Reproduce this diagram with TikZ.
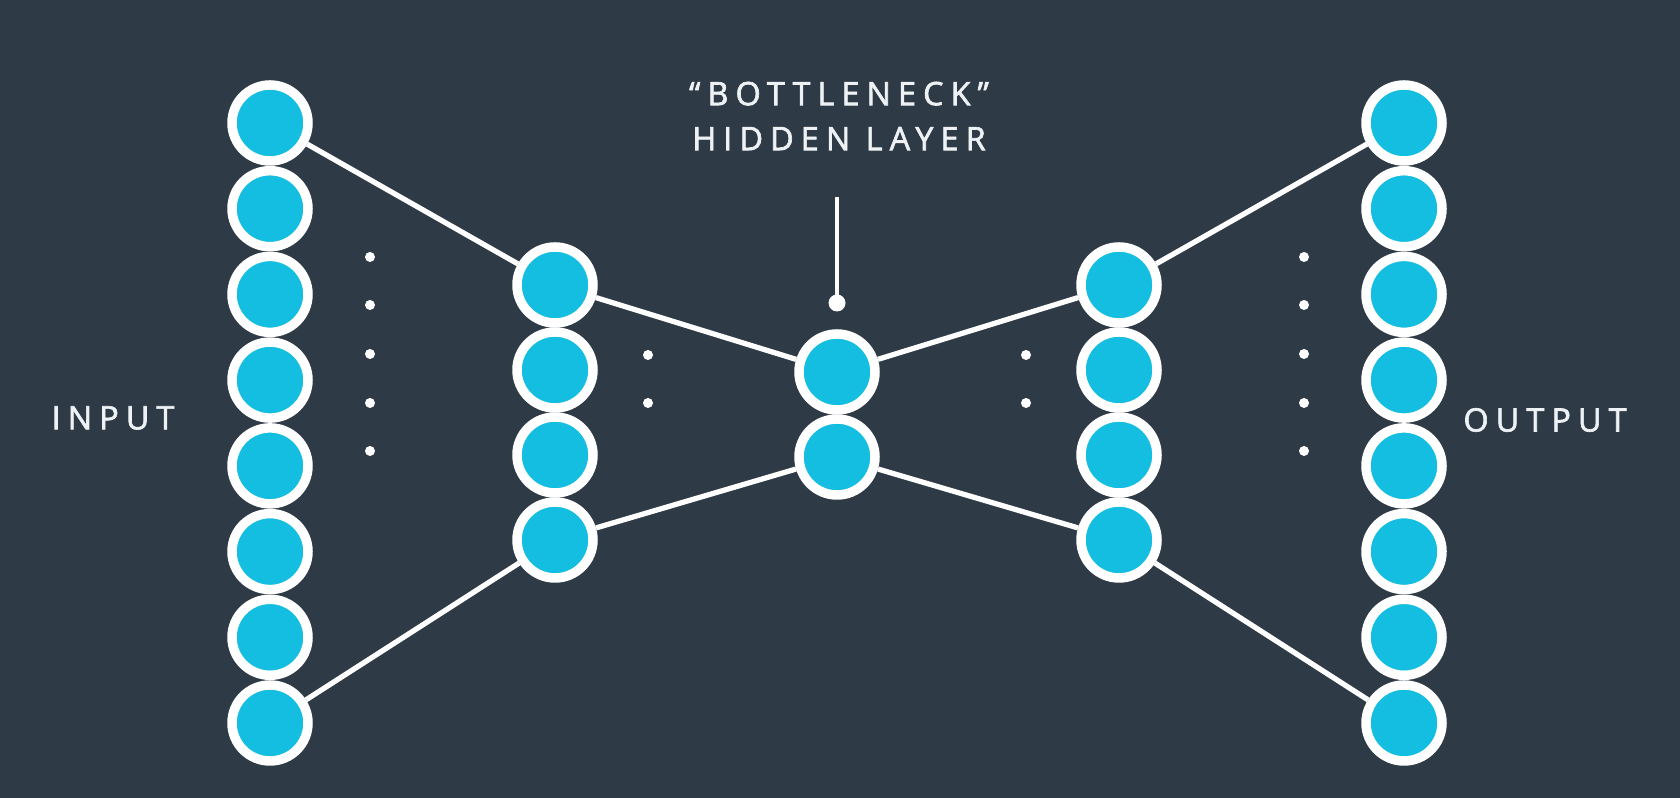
\documentclass[tikz,border=0pt]{standalone}
\usepackage{fontspec}
\usepackage{tikz}
\newfontfamily\labelfont{Open Sans}[LetterSpace=22,FakeBold=2]
\definecolor{bgslate}{RGB}{46,58,70}
\definecolor{unitcyan}{RGB}{20,190,224}
\definecolor{labelwhite}{RGB}{238,242,245}

\begin{document}
\begin{tikzpicture}[
        unit/.style={draw=white, circle, line width=2.7pt, fill=unitcyan, minimum size=0.76cm, inner sep=0pt},
        link/.style={white, line width=1.5pt},
        gap/.style={fill=white},
        caption/.style={text=labelwhite, font=\labelfont\fontsize{9.2}{12.8}\selectfont, align=center}
    ]
        \fill[bgslate] (0,0) rectangle (16.8,7.98);

        % input layer
        \node[unit] (in1) at (2.70,6.750) {};
        \node[unit] (in2) at (2.70,5.893) {};
        \node[unit] (in3) at (2.70,5.036) {};
        \node[unit] (in4) at (2.70,4.179) {};
        \node[unit] (in5) at (2.70,3.321) {};
        \node[unit] (in6) at (2.70,2.464) {};
        \node[unit] (in7) at (2.70,1.607) {};
        \node[unit] (in8) at (2.70,0.750) {};

        % encoder
        \node[unit] (enc1) at (5.55,5.13) {};
        \node[unit] (enc2) at (5.55,4.28) {};
        \node[unit] (enc3) at (5.55,3.43) {};
        \node[unit] (enc4) at (5.55,2.58) {};

        % bottleneck
        \node[unit] (code1) at (8.37,4.26) {};
        \node[unit] (code2) at (8.37,3.41) {};

        % decoder
        \node[unit] (dec1) at (11.19,5.13) {};
        \node[unit] (dec2) at (11.19,4.28) {};
        \node[unit] (dec3) at (11.19,3.43) {};
        \node[unit] (dec4) at (11.19,2.58) {};

        % output layer
        \node[unit] (out1) at (14.04,6.750) {};
        \node[unit] (out2) at (14.04,5.893) {};
        \node[unit] (out3) at (14.04,5.036) {};
        \node[unit] (out4) at (14.04,4.179) {};
        \node[unit] (out5) at (14.04,3.321) {};
        \node[unit] (out6) at (14.04,2.464) {};
        \node[unit] (out7) at (14.04,1.607) {};
        \node[unit] (out8) at (14.04,0.750) {};

        \draw[link] (in1) -- (enc1);
        \draw[link] (in8) -- (enc4);
        \draw[link] (enc1) -- (code1);
        \draw[link] (enc4) -- (code2);
        \draw[link] (code1) -- (dec1);
        \draw[link] (code2) -- (dec4);
        \draw[link] (dec1) -- (out1);
        \draw[link] (dec4) -- (out8);

        % dots
        \fill[gap] (3.70,5.41) circle (0.05);
        \fill[gap] (3.70,4.93) circle (0.05);
        \fill[gap] (3.70,4.44) circle (0.05);
        \fill[gap] (3.70,3.95) circle (0.05);
        \fill[gap] (3.70,3.47) circle (0.05);
        \fill[gap] (6.48,4.43) circle (0.05);
        \fill[gap] (6.48,3.95) circle (0.05);
        \fill[gap] (10.26,4.43) circle (0.05);
        \fill[gap] (10.26,3.95) circle (0.05);
        \fill[gap] (13.04,5.41) circle (0.05);
        \fill[gap] (13.04,4.93) circle (0.05);
        \fill[gap] (13.04,4.44) circle (0.05);
        \fill[gap] (13.04,3.95) circle (0.05);
        \fill[gap] (13.04,3.47) circle (0.05);

        % labels
        \node[caption] (inlabel) at (1.13,3.80) {INPUT};
        \node[caption] (outlabel) at (15.45,3.78) {OUTPUT};
        \node[caption] (note) at (8.39,6.82) {“BOTTLENECK”\\HIDDEN LAYER};
        \coordinate (ltop) at (8.37,6.01);
        \node[circle, fill=white, minimum size=0.17cm, inner sep=0pt] (pin) at (8.37,4.95) {};
        \draw[white, line width=0.9pt] (ltop) -- (pin.center);

    \end{tikzpicture}
\end{document}
